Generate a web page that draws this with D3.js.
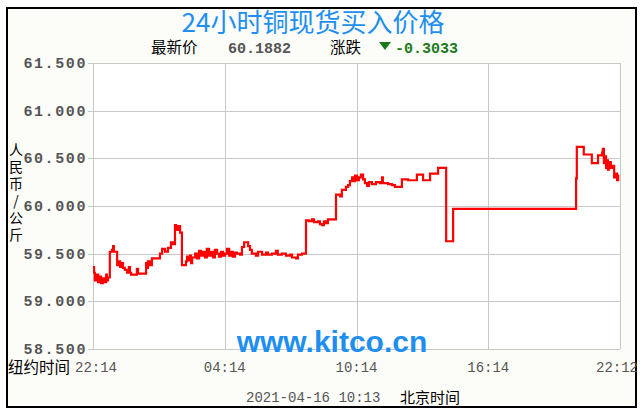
<!DOCTYPE html>
<html>
<head>
<meta charset="utf-8">
<script src="https://cdn.jsdelivr.net/npm/d3@7"></script>
<style>
  body { margin: 0; background: #fff; }
</style>
</head>
<body>
<script>
// minutes after 22:14 (NY) and the price at that moment, step chart
const minutes = [0,3,5,11,14,19,22,27,30,36,38,41,46,52,55,57,66,68,74,77,82,87,93,98,101,104,120,123,145,148,150,156,161,183,189,197,205,213,219,224,227,232,238,243,254,257,262,265,268,271,279,284,290,295,301,306,311,317,322,328,333,339,344,350,355,361,366,372,377,382,388,393,402,407,413,424,429,434,445,451,462,473,478,489,500,505,516,527,538,544,555,560,571,582,590,598,604,615,620,626,631,637,642,664,675,680,691,697,702,708,710,716,721,727,732,738,743,749,754,762,773,784,790,792,806,817,825,844,861,885,902,921,943,965,984,1320,1322,1341,1363,1380,1391,1393,1396,1399,1402,1404,1407,1410,1415,1421,1424,1429,1432,1435];
const prices = [59.36,59.30,59.22,59.28,59.20,59.26,59.19,59.24,59.20,59.28,59.22,59.25,59.52,59.54,59.58,59.52,59.38,59.42,59.36,59.40,59.35,59.33,59.30,59.36,59.30,59.28,59.34,59.29,59.40,59.35,59.42,59.38,59.45,59.50,59.55,59.52,59.56,59.62,59.60,59.80,59.75,59.79,59.72,59.38,59.42,59.47,59.43,59.48,59.40,59.46,59.50,59.45,59.53,59.48,59.52,59.46,59.55,59.48,59.52,59.46,59.54,59.50,59.47,59.52,59.48,59.50,59.55,59.48,59.52,59.47,59.51,59.50,59.49,59.57,59.62,59.58,59.54,59.50,59.48,59.52,59.49,59.51,59.49,59.50,59.53,59.49,59.50,59.48,59.49,59.46,59.45,59.49,59.50,59.85,59.84,59.86,59.83,59.84,59.81,59.80,59.84,59.82,59.86,60.12,60.10,60.17,60.20,60.22,60.26,60.30,60.26,60.32,60.27,60.30,60.33,60.28,60.24,60.21,60.25,60.23,60.25,60.24,60.30,60.24,60.23,60.22,60.20,60.28,60.27,60.33,60.27,60.34,60.40,59.63,59.97,60.29,60.62,60.54,60.45,60.53,60.56,60.60,60.45,60.52,60.40,60.48,60.38,60.46,60.40,60.42,60.30,60.34,60.27,60.33];

const yTicks = [58.5, 59.0, 59.5, 60.0, 60.5, 61.0, 61.5];
const xTicks = [0, 360, 720, 1080, 1440];
const xTickLabels = ["22:14", "04:14", "10:14", "16:14", "22:12"];

const W = 641, H = 415;
const mono = "'Liberation Mono', monospace";
const cjk = "'Noto Sans CJK SC', sans-serif";

const svg = d3.select("body").append("svg")
    .attr("width", W)
    .attr("height", H)
    .attr("font-family", mono);

// outer frame
svg.append("rect")
    .attr("x", 7).attr("y", 8)
    .attr("width", 629).attr("height", 399)
    .attr("fill", "#fcfcf9")
    .attr("stroke", "#000")
    .attr("stroke-width", 2);

const plot = {left: 93, right: 620, top: 63, bottom: 349};

const x = d3.scaleLinear()
    .domain([0, 1440])
    .range([plot.left, plot.right]);

const y = d3.scaleLinear()
    .domain([58.5, 61.5])
    .range([plot.bottom, plot.top]);

svg.append("rect")
    .attr("x", plot.left).attr("y", plot.top)
    .attr("width", plot.right - plot.left)
    .attr("height", plot.bottom - plot.top)
    .attr("fill", "#fff");

// grid
const grid = svg.append("g").attr("stroke", "#c8c8c8").attr("stroke-width", 1);
grid.selectAll(".h").data(yTicks).join("line")
    .attr("x1", plot.left - 5).attr("x2", plot.right)
    .attr("y1", d => Math.round(y(d)) + 0.5)
    .attr("y2", d => Math.round(y(d)) + 0.5);
grid.selectAll(".v").data(xTicks).join("line")
    .attr("x1", d => Math.round(x(d)) + 0.5)
    .attr("x2", d => Math.round(x(d)) + 0.5)
    .attr("y1", plot.top).attr("y2", plot.bottom);

// y labels
svg.append("g").selectAll("text").data(yTicks).join("text")
    .attr("x", 87)
    .attr("y", d => y(d) + 5)
    .attr("text-anchor", "end")
    .attr("font-size", 15)
    .attr("font-weight", "bold")
    .attr("letter-spacing", 1.6)
    .attr("fill", "#555")
    .text(d => d3.format(",.3f")(d));

// x labels
svg.append("g").selectAll("text").data(xTicks).join("text")
    .attr("x", (d, i) => i == 0 ? 75 : (i == 4 ? 641 - 24 : x(d)))
    .attr("y", 372)
    .attr("text-anchor", (d, i) => i == 0 ? "start" : "middle")
    .attr("font-size", 14)
    .attr("fill", "#555")
    .text((d, i) => xTickLabels[i]);

svg.append("text")
    .attr("x", 8).attr("y", 373)
    .attr("font-family", cjk)
    .attr("font-size", 15.5)
    .attr("fill", "#000")
    .text("纽约时间");

// vertical axis title, one text set top to bottom
svg.append("text")
    .attr("x", 16)
    .attr("y", 143)
    .attr("font-family", cjk)
    .attr("font-size", 14)
    .attr("letter-spacing", 3)
    .attr("fill", "#000")
    .style("writing-mode", "vertical-rl")
    .style("text-orientation", "upright")
    .text("人民币/公斤");

// watermark
svg.append("text")
    .attr("x", 332).attr("y", 352)
    .attr("text-anchor", "middle")
    .attr("font-family", "'Liberation Sans', Arial, sans-serif")
    .attr("font-weight", "bold")
    .attr("font-size", 30)
    .attr("fill", "#1e8ff0")
    .text("www.kitco.cn");

// price line
const pts = minutes.map((m, i) => [m, prices[i]]);
svg.append("path")
    .datum(pts)
    .attr("fill", "none")
    .attr("stroke", "#ff0000")
    .attr("stroke-width", 2.2)
    .attr("d", d3.line()
        .x(d => x(d[0]))
        .y(d => y(d[1]))
        .curve(d3.curveStepAfter));

// title
svg.append("text")
    .attr("x", 313).attr("y", 32)
    .attr("text-anchor", "middle")
    .attr("font-family", cjk)
    .attr("font-size", 26)
    .attr("fill", "#1e8ff0")
    .text("24小时铜现货买入价格");

// subtitle
const sub = svg.append("g").attr("font-size", 15.5);
sub.append("text").attr("x", 151).attr("y", 53)
    .attr("font-family", cjk)
    .attr("fill", "#000").text("最新价");
sub.append("text").attr("x", 228).attr("y", 53)
    .attr("font-weight", "bold").attr("font-size", 15)
    .attr("fill", "#555").text("60.1882");
sub.append("text").attr("x", 330).attr("y", 53)
    .attr("font-family", cjk)
    .attr("fill", "#000").text("涨跌");
sub.append("path")
    .attr("d", "M379,42 L391,42 L385,50 Z")
    .attr("fill", "#1a7a1a");
sub.append("text").attr("x", 395).attr("y", 53)
    .attr("font-weight", "bold").attr("font-size", 15)
    .attr("fill", "#1a7a1a").text("-0.3033");

// bottom date
svg.append("text")
    .attr("x", 246).attr("y", 402)
    .attr("font-size", 14)
    .attr("fill", "#555")
    .text("2021-04-16 10:13");
svg.append("text")
    .attr("x", 400).attr("y", 403)
    .attr("font-family", cjk)
    .attr("font-size", 15)
    .attr("fill", "#000")
    .text("北京时间");
</script>
</body>
</html>
